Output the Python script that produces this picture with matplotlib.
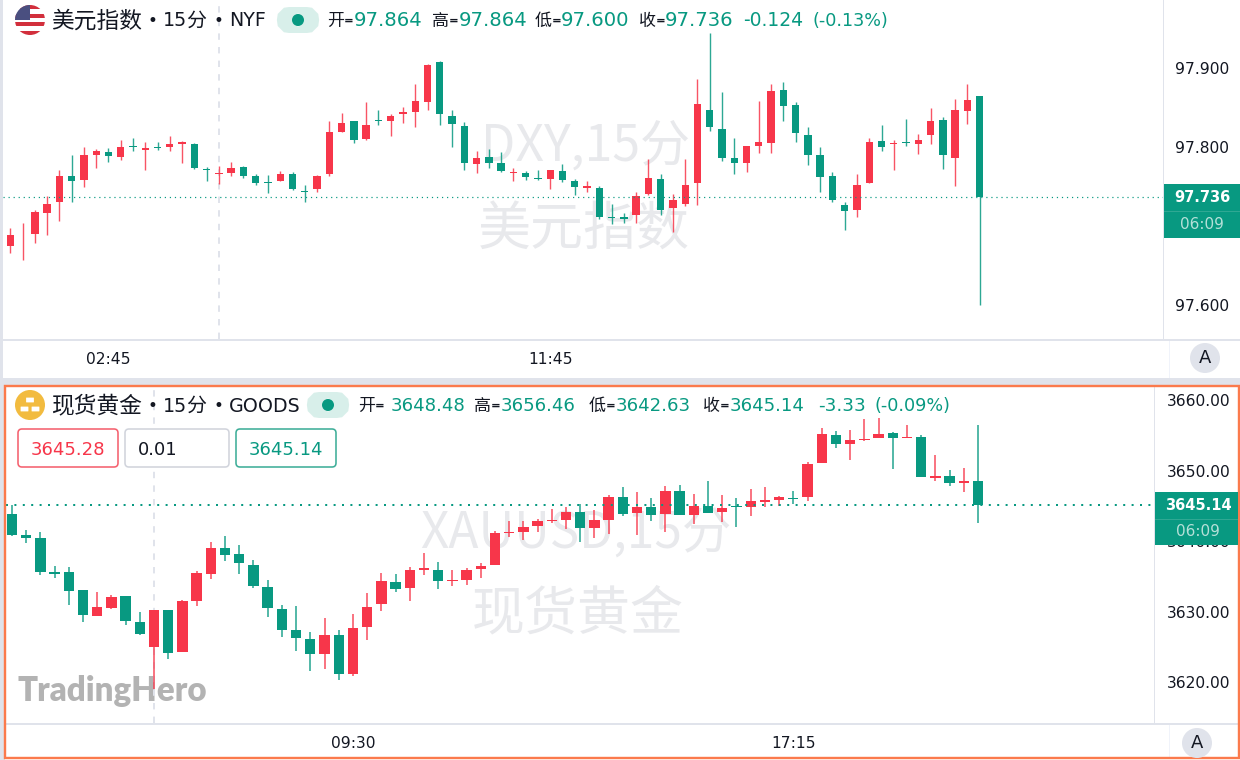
import matplotlib
matplotlib.use("Agg")
import matplotlib.pyplot as plt
from matplotlib.patches import Rectangle, Circle, FancyBboxPatch

# ---------- data ----------
dxy_high = [97.697,97.704,97.720,97.738,97.770,97.790,97.800,97.797,97.798,97.808,
            97.811,97.806,97.806,97.814,97.807,97.805,97.774,97.776,97.781,97.776,
            97.765,97.764,97.769,97.768,97.752,97.764,97.832,97.843,97.833,97.856,
            97.846,97.842,97.850,97.880,97.905,97.909,97.846,97.831,97.794,97.797,
            97.793,97.773,97.769,97.770,97.770,97.778,97.759,97.757,97.750,97.728,
            97.716,97.743,97.784,97.765,97.740,97.785,97.886,97.944,97.869,97.811,
            97.801,97.858,97.879,97.882,97.856,97.825,97.799,97.768,97.730,97.766,
            97.811,97.828,97.809,97.835,97.816,97.849,97.838,97.861,97.879,97.864]
dxy_low = [97.666,97.657,97.678,97.688,97.706,97.730,97.749,97.773,97.781,97.783,
           97.795,97.771,97.796,97.795,97.779,97.772,97.756,97.753,97.763,97.761,
           97.752,97.741,97.756,97.745,97.730,97.743,97.763,97.818,97.805,97.809,
           97.827,97.814,97.830,97.825,97.846,97.827,97.800,97.770,97.767,97.773,
           97.768,97.756,97.758,97.758,97.746,97.755,97.739,97.743,97.708,97.702,
           97.704,97.704,97.739,97.714,97.692,97.725,97.726,97.820,97.782,97.765,
           97.768,97.792,97.792,97.832,97.806,97.777,97.743,97.730,97.695,97.711,
           97.754,97.795,97.770,97.801,97.791,97.803,97.772,97.750,97.829,97.600]
dxy_open = [97.674,97.689,97.690,97.716,97.730,97.763,97.758,97.789,97.793,97.787,
            97.801,97.796,97.799,97.800,97.804,97.804,97.772,97.766,97.767,97.774,
            97.763,97.755,97.757,97.766,97.744,97.747,97.765,97.819,97.833,97.810,
            97.834,97.832,97.841,97.844,97.857,97.907,97.839,97.826,97.778,97.787,
            97.780,97.767,97.767,97.760,97.759,97.769,97.756,97.748,97.748,97.711,
            97.711,97.713,97.740,97.759,97.722,97.728,97.754,97.846,97.823,97.786,
            97.780,97.801,97.805,97.872,97.853,97.815,97.790,97.763,97.726,97.720,
            97.754,97.807,97.803,97.806,97.803,97.815,97.834,97.786,97.845,97.864]
dxy_close = [97.688,97.690,97.717,97.727,97.763,97.757,97.789,97.794,97.788,97.800,
             97.799,97.798,97.798,97.804,97.806,97.773,97.770,97.767,97.773,97.763,
             97.754,97.754,97.765,97.746,97.743,97.763,97.819,97.830,97.809,97.827,
             97.833,97.839,97.844,97.858,97.903,97.841,97.829,97.780,97.786,97.780,
             97.769,97.768,97.762,97.759,97.770,97.758,97.749,97.750,97.711,97.710,
             97.708,97.737,97.760,97.720,97.732,97.752,97.854,97.825,97.786,97.779,
             97.801,97.806,97.871,97.852,97.817,97.790,97.762,97.732,97.719,97.752,
             97.806,97.799,97.805,97.805,97.809,97.832,97.789,97.847,97.859,97.736]

gold_high = [3645.13,3641.59,3641.26,3636.43,3636.29,3633.03,3632.84,3632.32,3632.18,3629.96,
             3630.29,3630.29,3631.61,3635.77,3639.93,3640.78,3639.46,3637.28,3634.45,3630.90,
             3630.76,3627.17,3629.06,3627.45,3629.63,3632.66,3635.44,3635.40,3636.30,3638.28,
             3637.00,3635.87,3636.25,3636.96,3641.50,3642.92,3642.82,3643.15,3644.52,3644.81,
             3645.33,3644.38,3646.51,3647.64,3646.93,3646.18,3647.78,3648.02,3646.65,3648.54,
             3646.51,3646.18,3647.36,3647.64,3646.36,3647.17,3651.19,3656.01,3655.58,3655.73,
             3657.33,3657.48,3655.44,3656.44,3655.02,3652.18,3650.05,3650.34,3656.46]
gold_low = [3640.78,3639.79,3635.25,3634.78,3630.95,3628.54,3629.39,3630.43,3628.16,3626.74,
            3618.99,3623.24,3624.23,3630.85,3634.68,3637.19,3635.35,3633.41,3629.20,3626.46,
            3624.47,3621.54,3621.87,3620.32,3620.93,3625.99,3630.15,3632.84,3631.47,3635.26,
            3633.18,3633.70,3633.84,3634.74,3636.63,3640.55,3640.17,3641.35,3642.58,3641.78,
            3639.94,3640.50,3641.02,3643.53,3640.83,3642.92,3641.35,3643.67,3642.39,3644.00,
            3642.77,3642.01,3643.57,3644.85,3644.99,3645.28,3645.70,3651.14,3653.17,3651.57,
            3654.17,3654.64,3650.24,3654.59,3649.06,3648.49,3647.83,3647.03,3642.63]
gold_open = [3643.81,3640.88,3640.41,3635.58,3635.58,3633.03,3629.39,3630.57,3632.18,3628.54,
             3625.04,3630.29,3624.28,3631.47,3635.35,3638.99,3638.13,3636.62,3633.45,3630.33,
             3627.36,3626.08,3624.05,3626.65,3621.21,3627.88,3631.05,3634.22,3633.41,3635.87,
             3635.92,3634.36,3634.55,3636.11,3636.67,3641.12,3641.35,3642.21,3642.87,3643.01,
             3644.14,3641.92,3643.01,3646.22,3643.96,3644.85,3643.91,3647.07,3643.67,3644.99,
             3644.10,3644.95,3644.90,3645.61,3645.89,3646.18,3646.22,3651.14,3655.02,3653.79,
             3654.35,3654.69,3655.30,3654.59,3654.83,3649.01,3649.20,3648.26,3648.48]
gold_close = [3640.88,3640.41,3635.58,3635.39,3632.98,3629.48,3630.62,3632.13,3628.63,3626.88,
              3630.29,3624.09,3631.47,3635.44,3638.99,3638.09,3636.95,3633.60,3630.57,3627.45,
              3626.22,3624.00,3626.74,3621.17,3627.69,3630.67,3634.31,3633.27,3635.87,3636.25,
              3634.31,3634.50,3635.97,3636.53,3641.21,3641.26,3642.06,3642.87,3642.96,3644.19,
              3641.92,3642.96,3646.22,3643.91,3644.81,3643.72,3647.07,3643.67,3644.95,3644.05,
              3644.71,3644.80,3645.70,3645.80,3646.22,3646.03,3650.95,3655.16,3653.83,3654.40,
              3654.54,3655.21,3654.69,3654.78,3649.11,3649.25,3648.30,3648.49,3645.14]

dxy_yticks = [97.6, 97.8, 97.9]
dxy_ylabels = ["97.600", "97.800", "97.900"]
dxy_xticks = [8, 44]
dxy_xlabels = ["02:45", "11:45"]
gold_yticks = [3620, 3630, 3640, 3650, 3660]
gold_ylabels = ["3620.00", "3630.00", "3640.00", "3650.00", "3660.00"]
gold_xticks = [24, 55]
gold_xlabels = ["09:30", "17:15"]
dxy_last = 97.736
gold_last = 3645.14
dxy_cross = 17
gold_cross = 10

# ---------- style ----------
RED = "#F7364A"
GREEN = "#089981"
GRID = "#E0E3EB"
BLACK = "#131722"
WM = "#E8E9EC"
ORANGE = "#FB7A4C"
FONT = ["DejaVu Sans", "Noto Sans CJK SC"]
plt.rcParams["font.family"] = FONT
W, H = 1240, 760
px = 0.72  # points per pixel at dpi 100

fig = plt.figure(figsize=(W / 100, H / 100), dpi=100, facecolor="white")


def rect(l, t, r, b):
    return [l / W, 1 - b / H, (r - l) / W, (b - t) / H]


def overlay(z):
    a = fig.add_axes([0, 0, 1, 1], zorder=z)
    a.set_xlim(0, W)
    a.set_ylim(H, 0)
    a.axis("off")
    return a


bg = overlay(0)
fg = overlay(5)


def candles(ax, o, h, l, c, width, wick):
    for i in range(len(o)):
        col = RED if c[i] >= o[i] else GREEN
        ax.vlines(i, l[i], h[i], color=col, lw=wick, alpha=0.85, zorder=3)
        ax.bar(i, abs(c[i] - o[i]), width, bottom=min(o[i], c[i]), color=col, linewidth=0, zorder=4)


def pane(box, xlim, ylim, o, h, l, c, width, wick, yt, yl, xt, xl, last, cross, ypad, xpad, dot):
    ax = fig.add_axes(rect(*box), zorder=2)
    ax.patch.set_alpha(0)
    ax.set_xlim(*xlim)
    ax.set_ylim(*ylim)
    for s in ax.spines.values():
        s.set_visible(False)
    ax.yaxis.tick_right()
    ax.set_yticks(yt, yl)
    ax.set_xticks(xt, xl)
    ax.tick_params(axis="both", length=0, labelsize=15.5 * px, labelcolor=BLACK)
    ax.tick_params(axis="y", pad=ypad * px)
    ax.tick_params(axis="x", pad=xpad * px)
    ax.axvline(cross, color=GRID, lw=2 * px, ls=(0, (3.2, 3.6)), zorder=1)
    ax.axhline(last, color=GREEN, lw=dot * px, ls=(0, (1, 3.2)), zorder=5)
    candles(ax, o, h, l, c, width, wick)
    return ax


pane((3, 0, 1163, 339), (-0.595, 93.94), (97.5566, 97.9857),
     dxy_open, dxy_high, dxy_low, dxy_close, 0.60, 1.4 * px,
     dxy_yticks, dxy_ylabels, dxy_xticks, dxy_xlabels, dxy_last, dxy_cross, 12, 13, 1.2)
pane((6, 387, 1154, 723), (-0.42, 80.39), (3614.21, 3661.87),
     gold_open, gold_high, gold_low, gold_close, 0.73, 1.6 * px,
     gold_yticks, gold_ylabels, gold_xticks, gold_xlabels, gold_last, gold_cross, 13, 13, 2)

# ---------- background: frames and watermarks ----------
for (l, t, r, b) in [(0, 0, 3, 378), (0, 378, 1240, 385), (0, 385, 5, 760),
                     (0, 339, 1240, 341), (1163, 0, 1164, 339),
                     (5, 723, 1240, 725), (1154, 385, 1155, 723)]:
    bg.add_patch(Rectangle((l, t), r - l, b - t, fc=GRID, ec="none"))
bg.add_patch(Rectangle((1169, 341), 1, 37, fc="#F0F3FA", ec="none"))
bg.add_patch(Rectangle((1169, 725), 1, 33, fc="#F0F3FA", ec="none"))
for (x, y, s, fs) in [(585, 147, "DXY,15分", 50), (584, 230, "美元指数", 53),
                      (576, 535, "XAUUSD,15分", 49.5), (578, 614, "现货黄金", 53)]:
    bg.text(x, y, s, color=WM, fontsize=fs * px, ha="center", va="center",
            family=["Noto Sans CJK SC", "DejaVu Sans"])
bg.text(18, 691, "TradingHero", color="#B3B3B3", fontsize=33 * px, fontweight="heavy",
        ha="left", va="center", family="Lato")

# ---------- foreground: header, tags, badges ----------
fg.add_patch(Rectangle((5, 385.5), 1233.5, 372.5, fc="none", ec=ORANGE, lw=2.4 * px))


def t(x, y, s, col=BLACK, fs=18, ha="left", **kw):
    fg.text(x, y, s, color=col, fontsize=fs * px, ha=ha, va="center", **kw)


# flag
clip = Circle((30, 20), 15, transform=fg.transData)
for k in range(7):
    p = Rectangle((15, 5 + k * 30 / 7), 30, 30 / 7, fc="#D22F3C" if k % 2 == 0 else "white", ec="none")
    fg.add_patch(p)
    p.set_clip_path(clip)
p = Rectangle((15, 5), 15, 15, fc="#4A4F80", ec="none")
fg.add_patch(p)
p.set_clip_path(clip)
# gold icon
fg.add_patch(Circle((30, 405), 15, fc="#F2BB3F", ec="none"))
for (x, y) in [(30, 400), (24.5, 409), (35.5, 409)]:
    fg.add_patch(FancyBboxPatch((x - 3.5, y - 2), 7, 4, boxstyle="round,pad=0.4", fc="white", ec="none"))
# status pills
for (l, cy) in [(277, 20), (307, 405)]:
    fg.add_patch(FancyBboxPatch((l + 12, cy - 1), 18, 2, boxstyle="round,pad=0,rounding_size=1",
                                fc="#D8EFEA", ec="#D8EFEA", lw=24 * px, capstyle="round"))
    fg.add_patch(Circle((l + 21, cy), 6, fc=GREEN, ec="none"))

CJK = ["Noto Sans CJK SC", "DejaVu Sans"]
for (y, name, exch, ex_x) in [(21, "美元指数", "NYF", 229), (406, "现货黄金", "GOODS", 229)]:
    t(51, y, name, fs=22.7, family=CJK)
    t(148, y, "•", fs=17)
    t(163, y, "15", fs=19)
    t(186, y, "分", fs=20, family=CJK)
    t(214, y, "•", fs=17)
    t(ex_x, y, exch, fs=19)

# OHLC read-outs
for (y, fsv, items) in [
    (21, 19.6, [(327, "开", "97.864", 354), (432, "高", "97.864", 459),
                (535, "低", "97.600", 561), (639, "收", "97.736", 665)]),
    (406, 18.2, [(358, "开", "3648.48", 391), (474, "高", "3656.46", 501),
                 (589, "低", "3642.63", 616), (703, "收", "3645.14", 730)]),
]:
    for (x, c, v, vx) in items:
        t(x, y, c, fs=17, family=CJK)
        t(x + 17, y, "=", fs=11.5, fontweight="bold")
        t(vx, y, v, col=GREEN, fs=fsv)
t(743, 21, "-0.124", col=GREEN, fs=18.8)
t(812, 21, "(-0.13%)", col=GREEN, fs=17.6)
t(818, 406, "-3.33", col=GREEN, fs=18.4)
t(874, 406, "(-0.09%)", col=GREEN, fs=17.6)

# order boxes
for (l, r, s, ec, tc) in [(18, 118, "3645.28", "#F5616F", RED),
                          (125, 229, "0.01", "#D1D4DC", BLACK),
                          (236, 336, "3645.14", "#3FAE99", GREEN)]:
    fg.add_patch(FancyBboxPatch((l + 4, 433), r - l - 8, 30, boxstyle="round,pad=4,rounding_size=4",
                                fc="white", ec=ec, lw=1.6 * px))
    if s == "0.01":
        t(138, 450, s, col=tc, fs=18)
    else:
        t((l + r) / 2, 450, s, col=tc, fs=18, ha="center")

# price tags
for (l, t0, mid, b, price, cx) in [(1164, 184, 211, 238, "97.736", 1202),
                                   (1155, 492, 519, 545, "3645.14", 1198)]:
    fg.add_patch(Rectangle((l, t0), 1240 - l - (0 if l == 1164 else 2), b - t0, fc=GREEN, ec="none"))
    fg.add_patch(Rectangle((l, mid), 1240 - l - (0 if l == 1164 else 2), 1, fc="#2FA893", ec="none"))
    t(cx, (t0 + mid) / 2, price, col="white", fs=14.6, ha="center", fontweight="bold")
    t(cx, (mid + b) / 2, "06:09", col="#B5E0D8", fs=15.3, ha="center")

# auto-scale badges
for (x, y) in [(1205, 358), (1197, 743)]:
    fg.add_patch(Circle((x, y), 15, fc=GRID, ec="none"))
    t(x, y, "A", fs=18, ha="center")

fig.savefig("out.png", dpi=100, facecolor="white")
